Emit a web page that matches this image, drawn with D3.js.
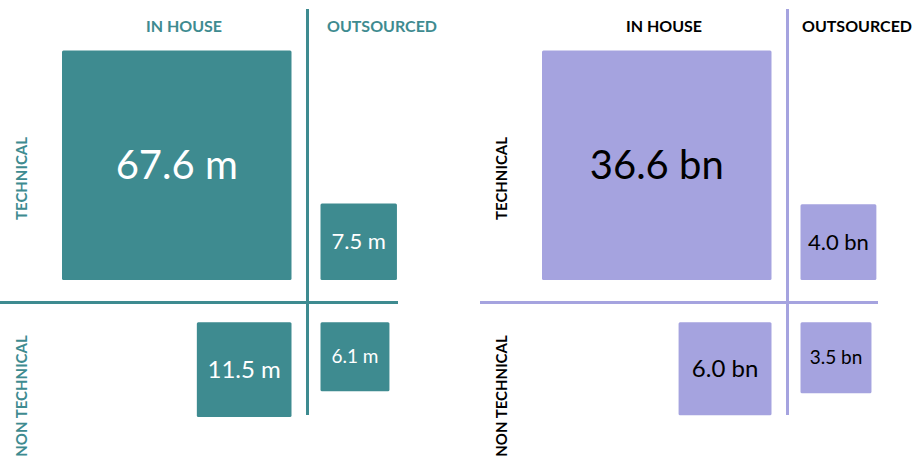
<!DOCTYPE html>
<html>
<head>
<meta charset="utf-8">
<script src="https://cdn.jsdelivr.net/npm/d3@7"></script>
<style>
  html, body { margin: 0; padding: 0; background: #fff; }
  svg { display: block; font-family: Lato, "Open Sans", sans-serif; }
</style>
</head>
<body>
<div id="chart"></div>
<script>
// quadrant order: technical/in house, technical/outsourced, non technical/in house, non technical/outsourced
var columns = ["IN HOUSE", "OUTSOURCED"];
var rows = ["TECHNICAL", "NON TECHNICAL"];
var costValues = [67.6, 7.5, 11.5, 6.1];      // left panel, millions
var spendValues = [36.6, 4.0, 6.0, 3.5];      // right panel, billions
var valueLabelsLeft = ["67.6 m", "7.5 m", "11.5 m", "6.1 m"];
var valueLabelsRight = ["36.6 bn", "4.0 bn", "6.0 bn", "3.5 bn"];

var width = 914, height = 461;

var svg = d3.select("#chart").append("svg")
  .attr("width", width)
  .attr("height", height);

// layout of one panel (relative to its left edge)
var crossX = 307.5, crossY = 302.5;
var maxSide = 229.5;
var labelSizes = [40, 22, 24, 19];

function drawPanel(ox, values, labels, opts) {
  var g = svg.append("g").attr("transform", "translate(" + ox + ",0)");
  var side = d3.scaleSqrt().domain([0, d3.max(values)]).range([0, maxSide]);

  // column headers
  var colX = [184, opts.outX];
  g.selectAll("text.col")
    .data(columns)
    .enter().append("text")
    .attr("class", "col")
    .attr("x", function (d, i) { return colX[i]; })
    .attr("y", 32)
    .attr("text-anchor", "middle")
    .attr("font-weight", "bold")
    .attr("font-size", 16)
    .attr("fill", opts.headColor)
    .text(function (d) { return d; });

  // row headers (rotated)
  var rowY = [178.5, 396];
  g.selectAll("text.row")
    .data(rows)
    .enter().append("text")
    .attr("class", "row")
    .attr("transform", function (d, i) { return "translate(27," + rowY[i] + ") rotate(-90)"; })
    .attr("text-anchor", "middle")
    .attr("font-weight", "bold")
    .attr("font-size", 15)
    .attr("fill", opts.headColor)
    .text(function (d) { return d; });

  // divider lines
  g.append("line")
    .attr("x1", crossX).attr("x2", crossX)
    .attr("y1", 9).attr("y2", 415)
    .attr("stroke", opts.fill).attr("stroke-width", 3);
  g.append("line")
    .attr("x1", 0).attr("x2", 398)
    .attr("y1", crossY).attr("y2", crossY)
    .attr("stroke", opts.fill).attr("stroke-width", 3);

  // squares: area encodes value, anchored towards the cross
  function pos(d, i) {
    var s = side(d);
    var left = (i % 2 === 0) ? 291.5 - s : 320.5;
    var top = (i < 2) ? 280 - s : 322.3;
    return { x: left, y: top, s: s };
  }

  var cells = g.selectAll("g.cell")
    .data(values)
    .enter().append("g")
    .attr("class", "cell");

  cells.append("rect")
    .attr("x", function (d, i) { return pos(d, i).x; })
    .attr("y", function (d, i) { return pos(d, i).y; })
    .attr("width", function (d, i) { return pos(d, i).s; })
    .attr("height", function (d, i) { return pos(d, i).s; })
    .attr("rx", 1.5)
    .attr("fill", opts.fill);

  cells.append("text")
    .attr("x", function (d, i) { var p = pos(d, i); return p.x + p.s / 2; })
    .attr("y", function (d, i) { var p = pos(d, i); return p.y + p.s / 2; })
    .attr("dy", "0.35em")
    .attr("text-anchor", "middle")
    .attr("font-size", function (d, i) { return labelSizes[i]; })
    .attr("fill", opts.textColor)
    .text(function (d, i) { return labels[i]; });
}

drawPanel(0, costValues, valueLabelsLeft,
  { fill: "#3e8b90", headColor: "#3e8b90", textColor: "#ffffff", outX: 382 });
drawPanel(480, spendValues, valueLabelsRight,
  { fill: "#a5a3df", headColor: "#000000", textColor: "#000000", outX: 377 });
</script>
</body>
</html>
